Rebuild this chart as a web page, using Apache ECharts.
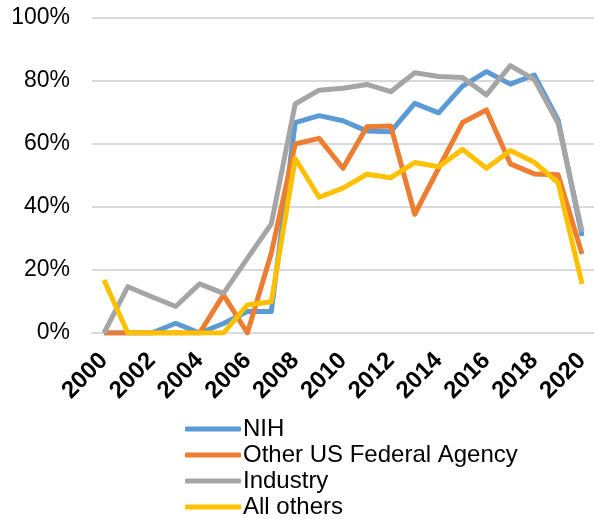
<!DOCTYPE html>
<html>
<head>
<meta charset="utf-8">
<script src="https://cdn.jsdelivr.net/npm/echarts@6/dist/echarts.min.js"></script>
<style>
  html, body { margin: 0; padding: 0; background: #fff; }
  #chart { width: 594px; height: 519px; }
</style>
</head>
<body>
<div id="chart"></div>
<script>
const years = ['2000', '2001', '2002', '2003', '2004', '2005', '2006', '2007', '2008', '2009', '2010',
  '2011', '2012', '2013', '2014', '2015', '2016', '2017', '2018', '2019', '2020'];

const nih = [0, 0, 0, 3.1, 0, 3, 6.8, 6.8, 66.8, 69, 67.4, 64.1, 63.9, 72.9, 69.9, 78.4, 83, 79, 81.9, 67.6, 30.8];
const otherFederal = [0, 0, 0, 0, 0, 12.1, 0, 25.3, 60, 61.8, 52.3, 65.5, 65.7, 37.7, 52.3, 66.8, 70.8, 53.7, 50.5, 50.2, 25.1];
const industry = [0, 14.7, 11.5, 8.4, 15.6, 12.6, 23.7, 34.6, 72.7, 77.1, 77.7, 78.9, 76.6, 82.6, 81.4, 81.1, 75.6, 84.9, 80.5, 66.6, 32.2];
const allOthers = [16.8, 0, 0, 0, 0, 0, 8.9, 9.9, 55.4, 43.1, 46, 50.4, 49.3, 54.1, 52.8, 58.3, 52.3, 57.9, 54.2, 47.7, 15.6];

const seriesNames = ['NIH', 'Other US Federal Agency', 'Industry', 'All others'];
const seriesData = [nih, otherFederal, industry, allOthers];
const colors = ['#5B9BD5', '#ED7D31', '#A5A5A5', '#FFC000'];

const font = '"Liberation Sans", Arial, sans-serif';

const chart = echarts.init(document.getElementById('chart'));
chart.setOption({
  animation: false,
  color: colors,
  textStyle: { fontFamily: font },
  grid: { left: 92, right: 0, top: 18, bottom: 186 },
  xAxis: {
    type: 'category',
    data: years,
    boundaryGap: true,
    axisLine: { lineStyle: { color: '#d9d9d9', width: 2 } },
    axisTick: { show: false },
    axisLabel: {
      interval: 1,
      rotate: 45,
      margin: 24,
      color: '#000',
      fontSize: 24,
      fontWeight: 'bold',
      fontFamily: font
    }
  },
  yAxis: {
    type: 'value',
    min: 0,
    max: 100,
    interval: 20,
    axisLine: { show: false },
    axisTick: { show: false },
    axisLabel: {
      formatter: '{value}%',
      margin: 22,
      color: '#000',
      fontSize: 23,
      fontFamily: font
    },
    splitLine: { lineStyle: { color: '#d9d9d9', width: 2 } }
  },
  legend: {
    orient: 'vertical',
    left: 180,
    top: 411,
    height: 110,
    itemWidth: 56,
    itemHeight: 5,
    itemGap: 0,
    icon: 'roundRect',
    textStyle: { color: '#000', fontSize: 24, lineHeight: 26, fontFamily: font, padding: [0, 0, 0, -3] },
    data: seriesNames
  },
  series: seriesNames.map((name, i) => ({
    name: name,
    type: 'line',
    data: seriesData[i],
    showSymbol: false,
    symbol: 'none',
    lineStyle: { width: 5, color: colors[i], join: 'round' },
    itemStyle: { color: colors[i] }
  }))
});
</script>
</body>
</html>
